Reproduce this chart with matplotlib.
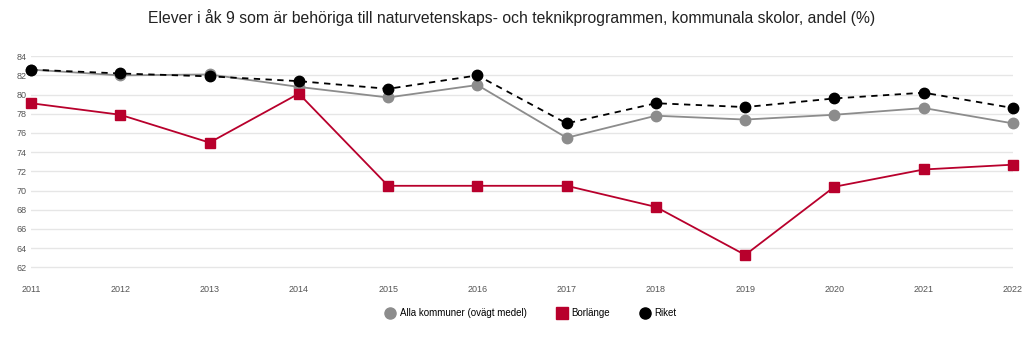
import matplotlib
matplotlib.use("Agg")
import matplotlib.pyplot as plt
from matplotlib.lines import Line2D

plt.rcParams['font.family'] = ['Liberation Sans', 'DejaVu Sans']

years = [2011, 2012, 2013, 2014, 2015, 2016, 2017, 2018, 2019, 2020, 2021, 2022]
alla = [82.6, 82.0, 82.1, 80.8, 79.7, 81.0, 75.5, 77.8, 77.4, 77.9, 78.6, 77.0]
borlange = [79.1, 77.9, 75.0, 80.1, 70.5, 70.5, 70.5, 68.3, 63.3, 70.4, 72.2, 72.7]
riket = [82.6, 82.2, 81.9, 81.4, 80.6, 82.0, 77.0, 79.1, 78.7, 79.6, 80.2, 78.6]
yticks = list(range(62, 86, 2))

RED = '#b8002c'
GRAY = '#8c8c8c'

fig = plt.figure(figsize=(10.24, 3.37), dpi=100)
ax = fig.add_axes([31 / 1024, 1 - 277 / 337, 982 / 1024, 221 / 337])

ax.plot(years, alla, color=GRAY, lw=1.3, marker='o', ms=7.5, mec=GRAY, clip_on=False, zorder=3)
ax.plot(years, borlange, color=RED, lw=1.3, marker='s', ms=7, mec=RED, clip_on=False, zorder=4)
ax.plot(years, riket, color='black', lw=1.3, ls=(0, (3.5, 3)), marker='o', ms=7.5, mec='black',
        clip_on=False, zorder=5)

ax.set_xlim(2011, 2022)
ax.set_ylim(61, 84.02)
ax.set_yticks(yticks)
ax.set_xticks(years)
ax.grid(axis='y', color='#e6e6e6', lw=1)
ax.set_axisbelow(True)
for s in ax.spines.values():
    s.set_visible(False)
ax.tick_params(length=0, labelsize=6.5, labelcolor='#555555')
ax.tick_params(axis='y', pad=3)
ax.tick_params(axis='x', pad=6)

fig.text(0.5, 1 - 18 / 337, 'Elever i åk 9 som är behöriga till naturvetenskaps- och teknikprogrammen, '
         'kommunala skolor, andel (%)', ha='center', va='center', fontsize=11.3, color='#222222')

handles = [
    Line2D([], [], ls='none', marker='o', ms=8, color=GRAY),
    Line2D([], [], ls='none', marker='s', ms=8, color=RED),
    Line2D([], [], ls='none', marker='o', ms=8, color='black'),
]
labels = ['Alla kommuner (ovägt medel)', 'Borlänge', 'Riket']
fig.legend(handles, labels, loc='center', bbox_to_anchor=(0.518, 1 - 313 / 337), ncol=3,
           frameon=False, fontsize=7, handletextpad=0.4, columnspacing=3.0, handlelength=1.2)

fig.savefig('out.png', dpi=100, facecolor='white')
